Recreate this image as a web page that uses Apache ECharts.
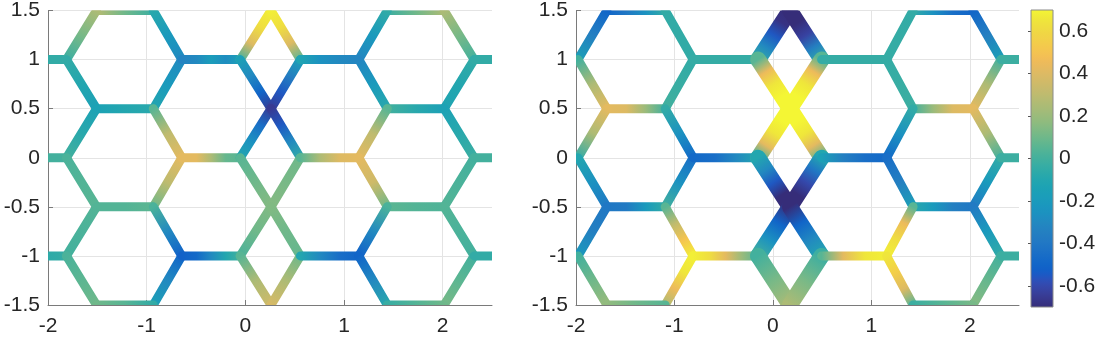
<!DOCTYPE html>
<html><head><meta charset="utf-8">
<script src="https://cdn.jsdelivr.net/npm/echarts@6/dist/echarts.min.js"></script>
<style>html,body{margin:0;padding:0;background:#fff}#c{width:1099px;height:337px}</style>
</head><body><div id="c"></div>
<script>
// ---- axes / ticks ----
const xTicks = [-2, -1, 0, 1, 2];
const yTicks = [-1.5, -1, -0.5, 0, 0.5, 1, 1.5];
const cbTicks = [-0.6, -0.4, -0.2, 0, 0.2, 0.4, 0.6];
const xRange = [-2, 2.5];
const yRange = [-1.5, 1.5];
const cRange = [-0.7, 0.7];

// ---- node x positions: A = rows at integer y, B = rows at half-integer y ----
const leftA = [-1.813, -0.644, -0.052, 0.558, 1.150, 2.319];
const leftB = [-1.508, -0.933, 0.26, 1.439, 2.015];
const rightA = [-1.98, -0.81, -0.15, 0.495, 1.155, 2.318];
const rightB = [-1.686, -1.094, 0.173, 1.424, 2.032];

// ---- edges: [col1, y1, col2, y2, values along the edge] ('L'/'R' = plot border) ----
const leftEdges = [
  [0,1.5,1,1.5,[0.28,0.1,-0.02]], [3,1.5,4,1.5,[-0.02,0.1,0.25]],
  ['L',1,0,1,[-0.05,-0.05]],
  [0,1,0,1.5,[-0.02,0.12,0.25]], [0,1,0,0.5,[-0.05,-0.1,-0.15]],
  [1,1,1,1.5,[-0.3,-0.2,-0.08]], [1,1,1,0.5,[-0.3,-0.2,-0.1]],
  [1,1,2,1,[-0.33,-0.3,-0.18,-0.28,-0.15]],
  [2,1,2,1.5,[0.0,0.4,0.62,0.68]], [2,1,2,0.5,[-0.15,-0.3,-0.5,-0.65]],
  [3,1,2,1.5,[0.05,0.4,0.62,0.68]], [3,1,2,0.5,[-0.15,-0.35,-0.55,-0.65]],
  [3,1,4,1,[-0.12,-0.25,-0.3,-0.32]],
  [4,1,3,1.5,[-0.32,-0.2,-0.05]], [4,1,3,0.5,[-0.32,-0.2,-0.08]],
  [5,1,4,1.5,[0.0,0.12,0.25]], [5,1,4,0.5,[-0.05,-0.1,-0.12]],
  [5,1,'R',1,[-0.05,-0.05]],
  [0,0.5,1,0.5,[-0.14,-0.1,-0.08]], [3,0.5,4,0.5,[0.0,-0.08,-0.15]],
  ['L',0,0,0,[0,0]],
  [0,0,0,0.5,[0.0,-0.08,-0.14]], [0,0,0,-0.5,[0.02,0.04,0.05]],
  [1,0,1,0.5,[0.42,0.3,0.05]], [1,0,1,-0.5,[0.42,0.3,0.1]],
  [1,0,2,0,[0.42,0.42,0.25,0.08,0.05]],
  [2,0,2,0.5,[-0.1,-0.25,-0.45,-0.65]], [2,0,2,-0.5,[0.05,0.1,0.15]],
  [3,0,2,0.5,[-0.05,-0.3,-0.55,-0.65]], [3,0,2,-0.5,[0.1,0.12,0.15]],
  [3,0,4,0,[0.05,0.25,0.4,0.42]],
  [4,0,3,0.5,[0.42,0.3,0.05]], [4,0,3,-0.5,[0.42,0.35,0.1]],
  [5,0,4,0.5,[-0.02,-0.08,-0.14]], [5,0,4,-0.5,[0.0,0.02,0.04]],
  [5,0,'R',0,[0,0]],
  [0,-0.5,1,-0.5,[0.04,0.04,0.06]], [3,-0.5,4,-0.5,[0.06,0.04,0.03]],
  ['L',-1,0,-1,[-0.06,-0.04]],
  [0,-1,0,-0.5,[0.0,0.02,0.04]], [0,-1,0,-1.5,[0.02,0.06,0.1]],
  [1,-1,1,-0.5,[-0.52,-0.3,0.02]], [1,-1,1,-1.5,[-0.5,-0.3,-0.15]],
  [1,-1,2,-1,[-0.52,-0.48,-0.3,-0.1,0.0]],
  [2,-1,2,-0.5,[0.02,0.1,0.14]], [2,-1,2,-1.5,[0.05,0.25,0.35]],
  [3,-1,2,-0.5,[0.08,0.1,0.14]], [3,-1,2,-1.5,[0.1,0.25,0.38]],
  [3,-1,4,-1,[-0.1,-0.3,-0.45,-0.5]],
  [4,-1,3,-0.5,[-0.52,-0.3,0.02]], [4,-1,3,-1.5,[-0.5,-0.3,-0.08]],
  [5,-1,4,-0.5,[0.0,0.02,0.04]], [5,-1,4,-1.5,[0.0,0.06,0.12]],
  [5,-1,'R',-1,[-0.05,-0.05]],
  [0,-1.5,1,-1.5,[0.1,0.05,-0.05]], [3,-1.5,4,-1.5,[-0.03,0.04,0.1]]
];

const rightEdges = [
  [0,1.5,1,1.5,[-0.5,-0.4,-0.25,-0.05]], [3,1.5,4,1.5,[-0.05,-0.25,-0.45,-0.5]],
  [0,1,0,1.5,[-0.15,-0.35,-0.5]], [0,1,0,0.5,[0.0,0.25,0.42]],
  [1,1,1,1.5,[-0.05,-0.05,-0.05]], [1,1,1,0.5,[-0.05,-0.03,0.0]],
  [1,1,2,1,[-0.04,-0.04,-0.04]],
  [2,1,2,1.5,[-0.05,-0.3,-0.55,-0.68,-0.7]], [2,1,2,0.5,[0.05,0.45,0.65,0.7,0.7]],
  [3,1,2,1.5,[-0.05,-0.35,-0.62,-0.7,-0.7]], [3,1,2,0.5,[0.05,0.45,0.65,0.7,0.7]],
  [3,1,4,1,[-0.04,-0.04,-0.04]],
  [4,1,3,1.5,[-0.04,-0.04,-0.05]], [4,1,3,0.5,[-0.04,-0.03,-0.02]],
  [5,1,4,1.5,[-0.15,-0.35,-0.5]], [5,1,4,0.5,[0.0,0.25,0.42]],
  [5,1,'R',1,[-0.02,-0.02]],
  [0,0.5,1,0.5,[0.42,0.4,0.2,0.0]], [3,0.5,4,0.5,[0.0,0.2,0.4,0.42]],
  [0,0,0,0.5,[-0.05,0.25,0.42]], [0,0,0,-0.5,[-0.1,-0.25,-0.4]],
  [1,0,1,0.5,[-0.48,-0.25,-0.05]], [1,0,1,-0.5,[-0.45,-0.25,0.0]],
  [1,0,2,0,[-0.48,-0.45,-0.3,-0.1]],
  [2,0,2,0.5,[0.0,0.42,0.65,0.7,0.7]], [2,0,2,-0.5,[-0.1,-0.3,-0.55,-0.7,-0.7]],
  [3,0,2,0.5,[0.05,0.42,0.65,0.7,0.7]], [3,0,2,-0.5,[-0.1,-0.4,-0.6,-0.7,-0.7]],
  [3,0,4,0,[-0.15,-0.35,-0.45,-0.48]],
  [4,0,3,0.5,[-0.48,-0.25,-0.05]], [4,0,3,-0.5,[-0.45,-0.35,-0.15]],
  [5,0,4,0.5,[0.0,0.25,0.42]], [5,0,4,-0.5,[-0.05,-0.2,-0.38]],
  [5,0,'R',0,[-0.02,-0.02]],
  [0,-0.5,1,-0.5,[-0.4,-0.38,-0.2,-0.05]], [3,-0.5,4,-0.5,[-0.08,-0.2,-0.35,-0.4]],
  [0,-1,0,-0.5,[-0.2,-0.35,-0.4]], [0,-1,0,-1.5,[0.0,0.1,0.2]],
  [1,-1,1,-0.5,[0.68,0.5,0.3,0.05]], [1,-1,1,-1.5,[0.68,0.65,0.45,0.25]],
  [1,-1,2,-1,[0.68,0.62,0.42,0.2,0.05]],
  [2,-1,2,-0.5,[0.0,-0.25,-0.5,-0.7]], [2,-1,2,-1.5,[0.0,0.12,0.25]],
  [3,-1,2,-0.5,[-0.1,-0.3,-0.5,-0.7]], [3,-1,2,-1.5,[-0.02,0.12,0.25]],
  [3,-1,4,-1,[0.05,0.42,0.65,0.68]],
  [4,-1,3,-0.5,[0.68,0.62,0.45,0.05]], [4,-1,3,-1.5,[0.65,0.55,0.4,0.05]],
  [5,-1,4,-0.5,[-0.05,-0.2,-0.38]], [5,-1,4,-1.5,[0.0,0.08,0.15]],
  [5,-1,'R',-1,[-0.02,-0.02]],
  [0,-1.5,1,-1.5,[0.18,0.1,0.05]], [3,-1.5,4,-1.5,[-0.02,0.05,0.12]]
];

// ---- parula colormap (style) ----
const parula = [
[0.2081,0.1663,0.5292],[0.2116,0.1898,0.5777],[0.2123,0.2138,0.6270],[0.2081,0.2386,0.6771],
[0.1959,0.2645,0.7279],[0.1707,0.2919,0.7792],[0.1253,0.3242,0.8303],[0.0591,0.3598,0.8683],
[0.0117,0.3875,0.8820],[0.0060,0.4086,0.8828],[0.0165,0.4266,0.8786],[0.0329,0.4430,0.8720],
[0.0498,0.4586,0.8641],[0.0629,0.4737,0.8554],[0.0723,0.4887,0.8467],[0.0779,0.5040,0.8384],
[0.0793,0.5200,0.8312],[0.0749,0.5375,0.8263],[0.0641,0.5570,0.8240],[0.0488,0.5772,0.8228],
[0.0343,0.5966,0.8199],[0.0265,0.6137,0.8135],[0.0239,0.6287,0.8038],[0.0231,0.6418,0.7913],
[0.0228,0.6535,0.7768],[0.0267,0.6642,0.7607],[0.0384,0.6743,0.7436],[0.0590,0.6838,0.7254],
[0.0843,0.6928,0.7062],[0.1133,0.7015,0.6859],[0.1453,0.7098,0.6646],[0.1801,0.7177,0.6424],
[0.2178,0.7250,0.6193],[0.2586,0.7317,0.5954],[0.3022,0.7376,0.5712],[0.3482,0.7424,0.5473],
[0.3953,0.7459,0.5244],[0.4420,0.7481,0.5033],[0.4871,0.7491,0.4840],[0.5300,0.7491,0.4661],
[0.5709,0.7485,0.4494],[0.6099,0.7473,0.4337],[0.6473,0.7456,0.4188],[0.6834,0.7435,0.4044],
[0.7184,0.7411,0.3905],[0.7525,0.7384,0.3768],[0.7858,0.7356,0.3633],[0.8185,0.7327,0.3498],
[0.8507,0.7299,0.3360],[0.8824,0.7274,0.3217],[0.9139,0.7258,0.3063],[0.9450,0.7261,0.2886],
[0.9739,0.7314,0.2666],[0.9938,0.7455,0.2403],[0.9990,0.7653,0.2164],[0.9955,0.7861,0.1967],
[0.9880,0.8066,0.1794],[0.9789,0.8271,0.1633],[0.9697,0.8481,0.1475],[0.9626,0.8705,0.1309],
[0.9589,0.8949,0.1132],[0.9598,0.9218,0.0948],[0.9661,0.9514,0.0755],[0.9763,0.9831,0.0538]];
const SAT = 0.82; // rendering saturation to mimic the reference's muted print

function cmapT(t) {
  t = Math.max(0, Math.min(1, t));
  const f = t * (parula.length - 1), i = Math.floor(f), j = Math.min(i + 1, parula.length - 1), u = f - i;
  let c = parula[i].map((a, k) => a + (parula[j][k] - a) * u);
  const L = 0.3 * c[0] + 0.59 * c[1] + 0.11 * c[2];
  c = c.map(a => L + (a - L) * SAT);
  return 'rgb(' + c.map(a => Math.round(Math.max(0, Math.min(1, a)) * 255)).join(',') + ')';
}
function cmap(v) { return cmapT((v - cRange[0]) / (cRange[1] - cRange[0])); }

function nodeX(A, B, c, y) {
  if (c === 'L') return xRange[0];
  if (c === 'R') return xRange[1];
  return Number.isInteger(y) ? A[c] : B[c];
}
function toData(edges, A, B) {
  return edges.map((e, i) => [nodeX(A, B, e[0], e[1]), e[1], nodeX(A, B, e[2], e[3]), e[3], i]);
}

const FONT = "'Liberation Sans', Arial, Helvetica, sans-serif";
const AX = '#7a7a7a';
const BASE_W = 9, WIDE_W = 16;

function makeRender(edges, wideCol) {
  return function (params, api) {
    const e = edges[api.value(4)];
    const p1 = api.coord([api.value(0), api.value(1)]);
    const p2 = api.coord([api.value(2), api.value(3)]);
    const vals = e[4], n = vals.length;
    const stops = vals.map((v, k) => ({ offset: k / (n - 1), color: cmap(v) }));
    const wide = wideCol !== null && ((e[0] === wideCol && !Number.isInteger(e[1])) || (e[2] === wideCol && !Number.isInteger(e[3])));
    return {
      type: 'line',
      shape: { x1: p1[0], y1: p1[1], x2: p2[0], y2: p2[1] },
      style: {
        stroke: new echarts.graphic.LinearGradient(p1[0], p1[1], p2[0], p2[1], stops, true),
        lineWidth: wide ? WIDE_W : BASE_W,
        lineCap: 'round'
      }
    };
  };
}

function xAx(g) {
  return {
    gridIndex: g, type: 'value', min: xRange[0], max: xRange[1],
    axisLine: { show: true, onZero: false, lineStyle: { color: AX, width: 1 } },
    axisTick: { show: true, inside: true, length: 5, customValues: xTicks, lineStyle: { color: AX } },
    axisLabel: { color: '#262626', fontSize: 21, fontFamily: FONT, margin: 11, customValues: xTicks },
    splitLine: { show: true, lineStyle: { color: '#e4e4e4', width: 1 } }
  };
}
function yAx(g) {
  return {
    gridIndex: g, type: 'value', min: yRange[0], max: yRange[1],
    axisLine: { show: true, onZero: false, lineStyle: { color: AX, width: 1 } },
    axisTick: { show: true, inside: true, length: 5, customValues: yTicks, lineStyle: { color: AX } },
    axisLabel: { color: '#262626', fontSize: 21, fontFamily: FONT, margin: 8, customValues: yTicks },
    splitLine: { show: true, lineStyle: { color: '#e4e4e4', width: 1 } }
  };
}

const chart = echarts.init(document.getElementById('c'), null, { renderer: 'canvas' });
chart.setOption({
  animation: false,
  backgroundColor: '#fff',
  grid: [
    { left: 48, top: 10, width: 444, height: 296 },
    { left: 576, top: 10, width: 443, height: 296 },
    { left: 1031, top: 10, width: 22, height: 297 }
  ],
  xAxis: [xAx(0), xAx(1), { gridIndex: 2, type: 'value', min: 0, max: 1, show: false }],
  yAxis: [yAx(0), yAx(1), {
    gridIndex: 2, type: 'value', position: 'right', min: cRange[0], max: cRange[1],
    axisLine: { show: false },
    axisTick: { show: true, inside: true, length: 3, customValues: cbTicks, lineStyle: { color: '#555' } },
    axisLabel: { color: '#262626', fontSize: 21, fontFamily: FONT, margin: 6, customValues: cbTicks },
    splitLine: { show: false }
  }],
  series: [
    { type: 'custom', xAxisIndex: 0, yAxisIndex: 0, clip: true, z: 2,
      encode: { x: [0, 2], y: [1, 3] },
      data: toData(leftEdges, leftA, leftB), renderItem: makeRender(leftEdges, null) },
    { type: 'custom', xAxisIndex: 1, yAxisIndex: 1, clip: true, z: 2,
      encode: { x: [0, 2], y: [1, 3] },
      data: toData(rightEdges, rightA, rightB), renderItem: makeRender(rightEdges, 2) },
    { type: 'custom', xAxisIndex: 2, yAxisIndex: 2, z: 1,
      encode: { x: 0, y: [1, 2] },
      data: [[0, cRange[0], cRange[1]]],
      renderItem: function (params, api) {
        const a = api.coord([0, api.value(2)]);
        const b = api.coord([1, api.value(1)]);
        const stops = parula.map((c, k) => ({ offset: k / (parula.length - 1), color: cmapT(1 - k / (parula.length - 1)) }));
        return {
          type: 'rect',
          shape: { x: a[0], y: a[1], width: b[0] - a[0], height: b[1] - a[1] },
          style: { fill: new echarts.graphic.LinearGradient(0, 0, 0, 1, stops), stroke: '#8a8a8a', lineWidth: 1 }
        };
      } }
  ]
});
</script></body></html>
